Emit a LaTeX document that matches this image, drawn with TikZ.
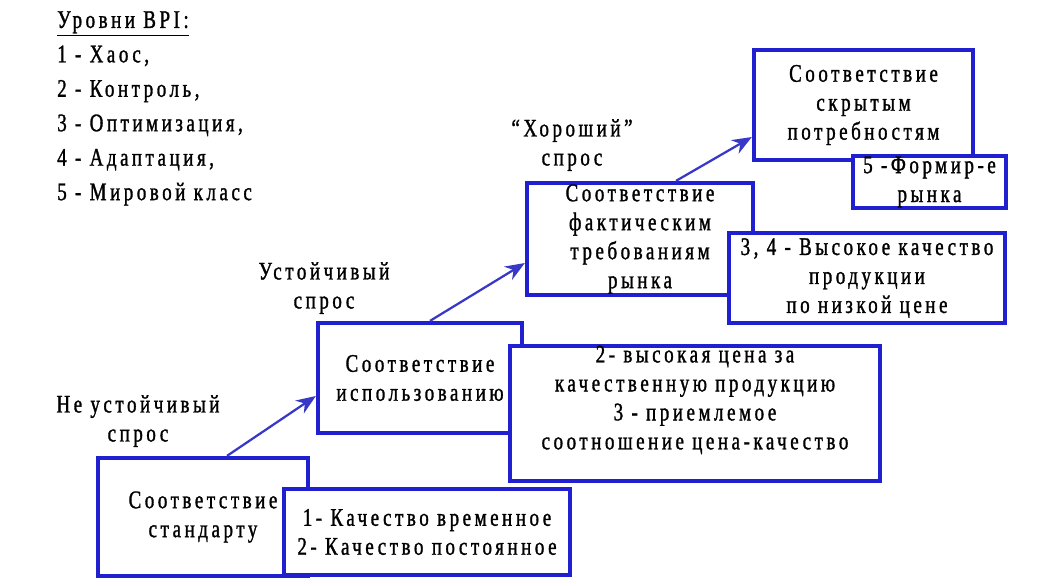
\documentclass[tikz,border=0pt]{standalone}
\usepackage{fontspec}
\usetikzlibrary{arrows.meta}
\newfontfamily\rus[FakeStretch=0.75,LetterSpace=14,FakeBold=1.2]{Liberation Serif}
\newcommand{\boxfont}   {\rus\fontsize{18}{20.6}\selectfont}
\newcommand{\legfont}   {\rus\fontsize{18}{24.5}\selectfont}
\definecolor{boxblue}{RGB}{32,32,208}
\definecolor{arrblue}{RGB}{56,56,200}

\begin{document}
\begin{tikzpicture}[x=0.025cm,y=-0.025cm,font=\boxfont,
   box/.style={draw=boxblue,line width=3pt,fill=white,align=center,inner sep=0pt},
   up/.style={draw=arrblue,line width=1.6pt,-{Stealth[length=14pt,width=11pt]}},
   lbl/.style={align=center,inner sep=0pt}]
   \useasboundingbox (0,0) rectangle (1044,585);
   \node[box,minimum width=5.25cm,minimum height=2.95cm] (std) at (203,517) {Соответствие\\стандарту};
   \node[box,minimum width=7.15cm,minimum height=2.15cm] (stdq) at (427,532) {1- Качество временное\\2- Качество постоянное};
   \node[box,minimum width=5.1cm,minimum height=2.75cm] (use) at (420,378) {Соответствие\\использованию};
   \node[box,minimum width=9.25cm,minimum height=3.325cm,text depth=0.8cm] (useq) at (695,413.5) {2- высокая цена за\\качественную продукцию\\3 - приемлемое\\соотношение цена-качество};
   \node[box,minimum width=5.65cm,minimum height=2.8cm] (req) at (640,239) {Соответствие\\фактическим\\требованиям\\рынка};
   \node[box,minimum width=6.9cm,minimum height=2.25cm] (reqq) at (867,278) {3, 4 - Высокое качество\\продукции\\по низкой цене};
   \node[box,minimum width=5.475cm,minimum height=2.75cm] (hid) at (863.5,105) {Соответствие\\скрытым\\потребностям};
   \node[box,minimum width=3.825cm,minimum height=1.3cm] (hidq) at (929.5,182) {5 -Формир-е\\рынка};
   \draw[up] ([xshift=0.6cm]std.north) -- ([yshift=-0.45cm]use.west);
   \draw[up] ([xshift=0.25cm]use.north) -- ([yshift=-0.6cm]req.west);
   \draw[up] ([xshift=0.9cm]req.north) -- ([yshift=-0.8cm]hid.west);
   \node[lbl] (unst) at (138,421) {Не устойчивый\\спрос};
   \node[lbl] (stab) at (324,288) {Устойчивый\\спрос};
   \node[lbl] (good) at (572,145) {“Хороший”\\спрос};
   \node[anchor=north west,align=left,inner sep=0pt,font=\legfont] (lev) at (57,11)
      {\underline{Уровни BPI:}\\1 - Хаос,\\2 - Контроль,\\3 - Оптимизация,\\4 - Адаптация,\\5 - Мировой класс};
\end{tikzpicture}
\end{document}
